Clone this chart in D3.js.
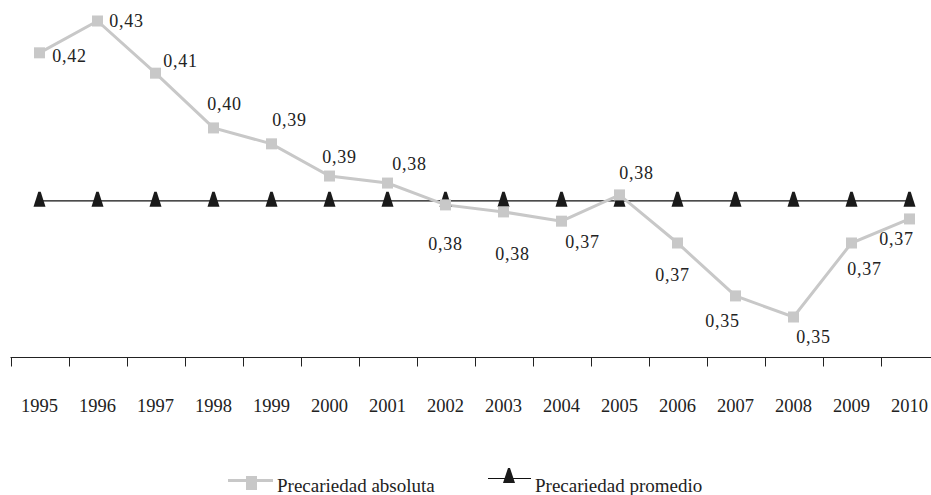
<!DOCTYPE html>
<html>
<head>
<meta charset="utf-8">
<script src="https://cdn.jsdelivr.net/npm/d3@7"></script>
<style>
html,body{margin:0;padding:0;background:#fff;}
svg{display:block;}
text{font-family:"Liberation Serif","Times New Roman",serif;fill:#222;}
</style>
</head>
<body>
<svg id="chart" width="931" height="495"></svg>
<script>
// ---- data ----
const years = ["1995","1996","1997","1998","1999","2000","2001","2002","2003","2004","2005","2006","2007","2008","2009","2010"];
const absoluta = [0.4214,0.4300,0.4159,0.4011,0.3968,0.3881,0.3862,0.3803,0.3784,0.3759,0.3830,0.3700,0.3557,0.3500,0.3700,0.3765];
const absolutaLabels = ["0,42","0,43","0,41","0,40","0,39","0,39","0,38","0,38","0,38","0,37","0,38","0,37","0,35","0,35","0,37","0,37"];
const promedio = [0.3814,0.3814,0.3814,0.3814,0.3814,0.3814,0.3814,0.3814,0.3814,0.3814,0.3814,0.3814,0.3814,0.3814,0.3814,0.3814];
const seriesNames = ["Precariedad absoluta","Precariedad promedio"];

// label placement relative to each point (center-x offset, baseline offset)
const labelOffsets = [[30,9],[29,6],[25,-6],[11,-18],[18,-18],[10,-13],[22,-13],[0,45],[9,48],[21,27],[17,-16],[-5,38],[-13,31],[20,26],[13,32],[-13,26]];

const svg = d3.select("#chart");
const x = d3.scaleBand().domain(years).range([10.5, 938.5]).padding(0);
const y = d3.scaleLinear().domain([0.35, 0.43]).range([317, 21]);
const cx = d => x(d) + x.bandwidth()/2;

// x axis
const axisY = 357.5;
const gAxis = svg.append("g").attr("transform", `translate(0,${axisY})`);
gAxis.append("line").attr("x1", 10.5).attr("x2", 938.5).attr("y1", 0).attr("y2", 0)
  .attr("stroke", "#222").attr("stroke-width", 1);
gAxis.selectAll("line.tk").data(years).enter().append("line")
  .attr("class","tk")
  .attr("x1", d => Math.round(x(d)) + 0.5).attr("x2", d => Math.round(x(d)) + 0.5)
  .attr("y1", 0).attr("y2", 9).attr("stroke", "#222").attr("stroke-width", 1);
gAxis.selectAll("text.yr").data(years).enter().append("text")
  .attr("class","yr")
  .attr("x", d => cx(d)).attr("y", 54)
  .attr("text-anchor","middle").attr("font-size", 18.5)
  .text(d => d);

// promedio line
const linePro = d3.line().x((d,i) => cx(years[i])).y(d => y(d));
svg.append("path").datum(promedio).attr("d", linePro)
  .attr("fill","none").attr("stroke","#111").attr("stroke-width",1.2);

// absoluta line
const lineAbs = d3.line().x((d,i) => cx(years[i])).y(d => y(d));
svg.append("path").datum(absoluta).attr("d", lineAbs)
  .attr("fill","none").attr("stroke","#c8c8c8").attr("stroke-width",3);

// triangles
const tri = (px, py) => `M${px-6},${py+6} L${px-1.2},${py-9} L${px+1.2},${py-9} L${px+6},${py+6} Z`;
svg.selectAll("path.tri").data(promedio).enter().append("path")
  .attr("class","tri")
  .attr("d", (d,i) => tri(cx(years[i]), y(d)))
  .attr("fill","#1a1a1a");

// squares
const sq = 11;
svg.selectAll("rect.sq").data(absoluta).enter().append("rect")
  .attr("class","sq")
  .attr("x", (d,i) => cx(years[i]) - sq/2).attr("y", d => y(d) - sq/2)
  .attr("width", sq).attr("height", sq).attr("fill","#c8c8c8");

// value labels
svg.selectAll("text.lbl").data(absoluta).enter().append("text")
  .attr("class","lbl")
  .attr("x", (d,i) => cx(years[i]) + labelOffsets[i][0])
  .attr("y", (d,i) => y(d) + labelOffsets[i][1])
  .attr("text-anchor","middle").attr("font-size", 18)
  .attr("letter-spacing", 0.8)
  .text((d,i) => absolutaLabels[i]);

// legend
const lg = svg.append("g");
lg.append("line").attr("x1",228).attr("x2",273).attr("y1",480.5).attr("y2",480.5)
  .attr("stroke","#c8c8c8").attr("stroke-width",3);
lg.append("rect").attr("x",246).attr("y",476).attr("width",11).attr("height",14).attr("fill","#c8c8c8");
lg.append("text").attr("x",277).attr("y",492).attr("font-size",19).text(seriesNames[0]);

lg.append("line").attr("x1",488).attr("x2",531).attr("y1",478.5).attr("y2",478.5)
  .attr("stroke","#111").attr("stroke-width",1.2);
lg.append("path").attr("d", `M503,483 L508,468 L510,468 L515,483 Z`).attr("fill","#1a1a1a");
lg.append("text").attr("x",535).attr("y",492).attr("font-size",19).text(seriesNames[1]);
</script>
</body>
</html>
